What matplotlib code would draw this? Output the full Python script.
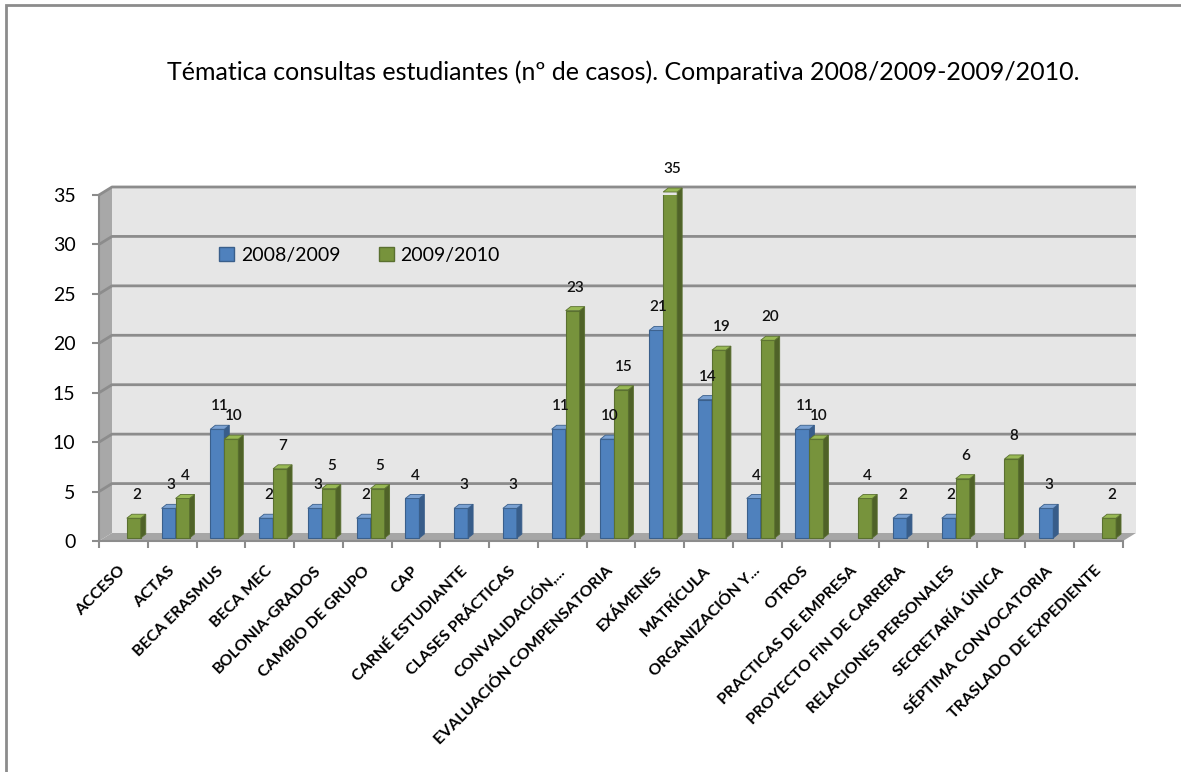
import matplotlib
matplotlib.use("Agg")
import matplotlib.pyplot as plt
from matplotlib.patches import Polygon, Rectangle, Patch
import numpy as np

plt.rcParams["font.family"] = ["Lato", "DejaVu Sans"]

categories = [
    "ACCESO", "ACTAS", "BECA ERASMUS", "BECA MEC", "BOLONIA-GRADOS",
    "CAMBIO DE GRUPO", "CAP", "CARNÉ ESTUDIANTE", "CLASES PRÁCTICAS",
    "CONVALIDACIÓN,...", "EVALUACIÓN COMPENSATORIA", "EXÁMENES", "MATRÍCULA",
    "ORGANIZACIÓN Y...", "OTROS", "PRACTICAS DE EMPRESA",
    "PROYECTO FIN DE CARRERA", "RELACIONES PERSONALES", "SECRETARÍA ÚNICA",
    "SÉPTIMA CONVOCATORIA", "TRASLADO DE EXPEDIENTE",
]
nan = np.nan
curso_0809 = [nan, 3, 11, 2, 3, 2, 4, 3, 3, 11, 10, 21, 14, 4, 11, nan, 2, 2, nan, 3, nan]
curso_0910 = [2, 4, 10, 7, 5, 5, nan, nan, nan, 23, 15, 35, 19, 20, 10, 4, nan, 6, 8, nan, 2]
series_names = ["2008/2009", "2009/2010"]
y_ticks = [0, 5, 10, 15, 20, 25, 30, 35]

# colores (front, lado, tapa, borde)
blue = ("#4F81BD", "#385D8A", "#7AA1D2", "#3A5F8B")
green = ("#77933C", "#4F6228", "#98B954", "#5A7030")

W, H, DPI = 1181, 772, 100
fig = plt.figure(figsize=(W / DPI, H / DPI), dpi=DPI)

# axes position in pixels
ax_l, ax_b, ax_w, ax_h = 99, 772 - 541, 1024, 346
ax = fig.add_axes([ax_l / W, ax_b / H, ax_w / W, ax_h / H])
n = len(categories)
x = np.arange(n)
x0, x1 = -0.5, n - 0.5
ymax = 35
ax.set_xlim(x0, x1)
ax.set_ylim(0, ymax)
ax.patch.set_visible(False)

px_x = (x1 - x0) / ax_w   # data per pixel
px_y = ymax / ax_h

# 3D walls
dx, dy = 13 * px_x, 8 * px_y
ax.add_patch(Rectangle((x0 + dx, dy), n, ymax, facecolor="#e6e6e6",
                       edgecolor="none", zorder=0, clip_on=False))
ax.add_patch(Polygon([(x0, 0), (x0 + dx, dy), (x0 + dx, ymax + dy), (x0, ymax)],
                     facecolor="#a8a8a8", edgecolor="none", zorder=0.5, clip_on=False))
ax.add_patch(Polygon([(x0, 0), (x1, 0), (x1 + dx, dy), (x0 + dx, dy)],
                     facecolor="#a6a6a6", edgecolor="none", zorder=0.5, clip_on=False))
for v in y_ticks[1:]:
    ax.plot([x0, x0 + dx, x1 + dx], [v, v + dy, v + dy], color="#8c8c8c",
            lw=2, zorder=0.6, clip_on=False, solid_capstyle="butt")

# bars
w = 14 * px_x
bdx, bdy = 5 * px_x, 4 * px_y
shift_x, base = 3.4 * px_x, 3 * px_y


def draw_bar(xc, h, cols):
    front, side, top, edge = cols
    xl, xr = xc - w / 2, xc + w / 2
    ax.bar(xc, h, width=w, bottom=base, color=front, edgecolor=edge,
           linewidth=0.8, zorder=2)
    ax.add_patch(Polygon([(xr, base), (xr + bdx, base + bdy), (xr + bdx, base + h + bdy),
                          (xr, base + h)], facecolor=side, edgecolor=edge, lw=0.6,
                         zorder=2, clip_on=False))
    ax.add_patch(Polygon([(xl, base + h), (xr, base + h), (xr + bdx, base + h + bdy),
                          (xl + bdx, base + h + bdy)], facecolor=top, edgecolor=edge,
                         lw=0.6, zorder=2, clip_on=False))
    ax.annotate(f"{h:g}", (xc + bdx / 2, base + h), xytext=(0, 16.5),
                textcoords="offset points", ha="center", va="center",
                fontsize=11, fontweight="semibold", color="#111111",
                annotation_clip=False, zorder=5)


for i in range(n):
    for vals, cols, off in ((curso_0809, blue, -w / 2), (curso_0910, green, w / 2)):
        v = vals[i]
        if not np.isnan(v):
            draw_bar(x[i] + off + shift_x, v, cols)

# axes styling
for s in ("top", "right"):
    ax.spines[s].set_visible(False)
ax.spines["left"].set_color("#8c8c8c")
ax.spines["left"].set_linewidth(1.5)
ax.spines["bottom"].set_color("#8c8c8c")
ax.spines["bottom"].set_linewidth(1.5)
ax.spines["left"].set_zorder(3)
ax.set_yticks(y_ticks)
ax.tick_params(axis="y", length=5, width=1.5, color="#8c8c8c", pad=12, labelsize=14)

ax.set_xticks(x)
ax.set_xticklabels(categories, rotation=45, ha="right", va="center",
                   rotation_mode="anchor", fontsize=11.5, fontweight="bold")
ax.tick_params(axis="x", which="major", length=0, pad=20)
ax.set_xticks(np.arange(n + 1) - 0.5, minor=True)
ax.tick_params(axis="x", which="minor", length=5, width=1.5, color="#8c8c8c")

handles = [Patch(facecolor=blue[0], edgecolor=blue[3]),
           Patch(facecolor=green[0], edgecolor=green[3])]
ax.legend(handles, series_names, loc="center left", bbox_to_anchor=(0.11, 0.825),
          ncol=2, frameon=False, fontsize=14, handlelength=0.75, handleheight=0.75,
          handletextpad=0.35, columnspacing=2.0, borderaxespad=0)

fig.text(623 / W, 1 - 72 / H,
         "Tématica consultas estudiantes (nº de casos). Comparativa 2008/2009-2009/2010.",
         ha="center", va="center", fontsize=18)

fig.patches.append(Rectangle((6 / W, -0.1), 1.2, (H - 5) / H + 0.1,
                             transform=fig.transFigure, fill=False,
                             edgecolor="#8c8c8c", lw=2))

fig.savefig("out.png", dpi=DPI)
